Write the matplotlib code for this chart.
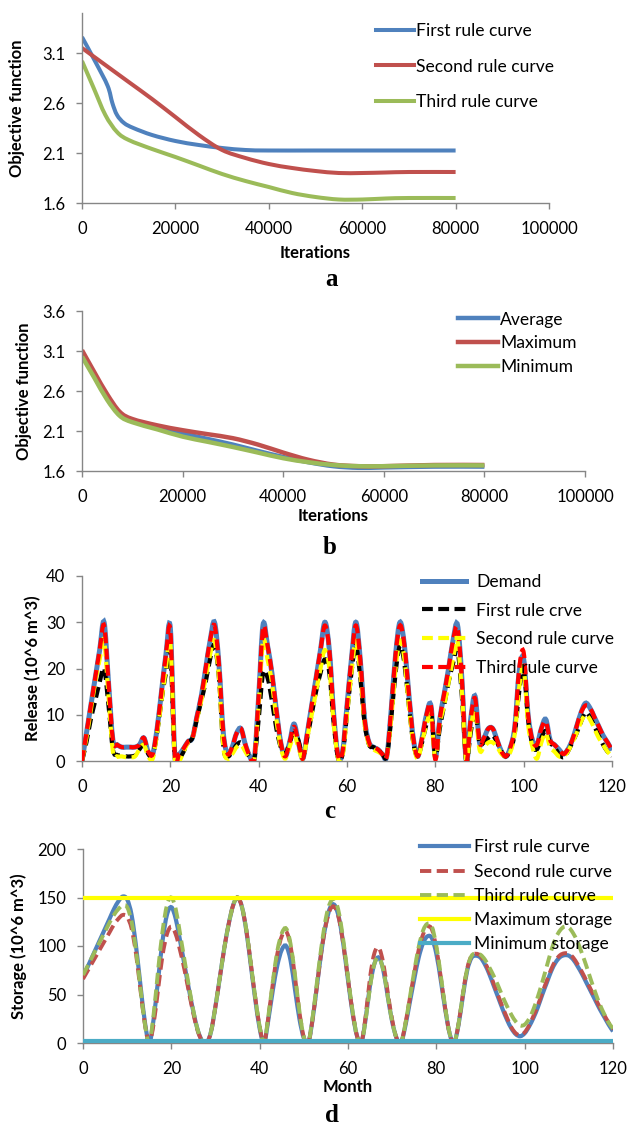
import matplotlib
matplotlib.use("Agg")
import matplotlib.pyplot as plt
from matplotlib.path import Path
from matplotlib.patches import PathPatch
from matplotlib.lines import Line2D
from matplotlib import ticker
import numpy as np

plt.rcParams['font.family'] = ['Lato', 'DejaVu Sans']

# ---------------- data ----------------
# panel a: objective function vs iterations for each rule curve
iter_a_first = [0, 3000, 5500, 6500, 7500, 9000, 11000, 15000, 20000, 25000, 30000, 35000, 40000, 50000, 60000, 70000, 80000]
obj_a_first = [3.26, 3.00, 2.77, 2.60, 2.48, 2.40, 2.35, 2.28, 2.22, 2.18, 2.15, 2.13, 2.125, 2.125, 2.125, 2.125, 2.125]
iter_a_second = [0, 5000, 10000, 15000, 20000, 25000, 30000, 35000, 40000, 45000, 50000, 55000, 60000, 65000, 70000, 80000]
obj_a_second = [3.15, 2.98, 2.81, 2.64, 2.46, 2.28, 2.13, 2.05, 1.99, 1.95, 1.92, 1.90, 1.90, 1.905, 1.91, 1.91]
iter_a_third = [0, 2500, 5000, 7500, 10000, 15000, 20000, 25000, 30000, 35000, 40000, 45000, 50000, 55000, 60000, 65000, 70000, 80000]
obj_a_third = [3.02, 2.75, 2.48, 2.31, 2.23, 2.14, 2.06, 1.975, 1.89, 1.82, 1.76, 1.70, 1.66, 1.635, 1.635, 1.645, 1.65, 1.65]

# panel b: average / maximum / minimum objective function
iter_b = [0, 2500, 5000, 7500, 10000, 15000, 20000, 25000, 30000, 35000, 40000, 45000, 50000, 55000, 60000, 70000, 80000]
obj_avg = [3.05, 2.78, 2.51, 2.31, 2.23, 2.15, 2.07, 2.00, 1.93, 1.85, 1.775, 1.71, 1.66, 1.64, 1.645, 1.655, 1.655]
obj_max = [3.11, 2.83, 2.56, 2.34, 2.25, 2.17, 2.11, 2.06, 2.01, 1.93, 1.83, 1.74, 1.68, 1.66, 1.66, 1.675, 1.675]
obj_min = [3.03, 2.76, 2.49, 2.29, 2.21, 2.12, 2.03, 1.965, 1.90, 1.83, 1.76, 1.71, 1.675, 1.66, 1.66, 1.67, 1.67]

# panel c: monthly release (10^6 m^3)
months = list(range(121))
demand = [0, 6, 12, 18, 24, 30, 17, 4.5, 3.5, 3,
          3, 3, 3, 3.5, 5, 2, 1.5, 7, 15, 23,
          28.8, 1.5, 1.5, 2.7, 4.2, 5, 9.5, 14, 20, 26,
          30, 21, 6, 1.5, 3, 6, 7, 3.5, 1, 0.3,
          14, 29.5, 25, 19, 11, 4, 1, 4, 8, 4,
          0.5, 6, 12, 18, 24, 30, 24, 10, 1, 2,
          12, 22, 30, 22, 9, 4, 3, 2.5, 1.5, 1,
          11, 23, 30, 25, 14.5, 5, 1, 5, 10, 12,
          1, 9, 14.5, 20, 26, 29.5, 18, 0, 9, 14,
          4, 5, 7, 7, 4.5, 2, 1, 3, 7.5, 19.5,
          22, 10, 4.5, 3.5, 7, 9, 4.5, 3.5, 2.5, 1.5,
          2.5, 4.5, 7.5, 10.5, 12.5, 11.5, 9.5, 7.5, 5.5, 4,
          2.3]
release_first = [0, 4, 9, 13, 17, 20, 12, 2.5, 1.3, 1.2,
                 1, 1, 1.2, 2.5, 3.5, 1.5, 1, 6, 13, 19,
                 23.5, 1, 0.5, 2, 4, 5, 9, 13, 17, 22,
                 25, 18, 3, 1, 2, 3.5, 4, 2.5, 0.8, 0.5,
                 9, 19, 18, 13, 7, 3, 1.5, 4, 6, 4.5,
                 1, 5, 10, 15, 19, 22, 19, 8, 0.5, 1.5,
                 10, 19, 25, 18, 8, 3.5, 3, 2.5, 1.5, 1,
                 9, 19, 25, 21, 12, 4, 1, 4, 8, 11,
                 1, 7, 12, 17, 21, 24, 14, 0, 6, 11,
                 4, 4, 5, 5.5, 4, 2, 1, 2.5, 6, 15,
                 20, 9, 3.5, 2.5, 5, 6.5, 4, 3, 1.5, 0.8,
                 2, 4, 6, 8.5, 10.5, 9.5, 7.5, 5.5, 3.5, 2,
                 1]
release_second = [0, 5, 11, 17, 22, 26, 14, 2, 1, 1,
                  0.8, 0.8, 1, 2.5, 3.5, 1, 0.5, 6, 13, 20,
                  25.5, 0.5, 0, 2, 4, 5, 9, 13, 18, 23,
                  26, 18, 3, 0.5, 1.5, 3, 3.5, 2, 0.5, 0.3,
                  12, 26, 22, 17, 9, 3, 0.5, 3, 5.5, 3,
                  0.5, 5, 10, 15, 20, 24, 20, 8, 0.5, 1,
                  10, 19, 26, 19, 8, 3.5, 2.5, 2, 1.5, 1,
                  9, 20, 26, 22, 12, 4, 0.5, 4, 8, 10,
                  0.5, 8, 12, 17, 22, 26, 15, 0, 7, 11,
                  2.5, 3, 4, 4, 3, 1.5, 1, 2, 6, 16,
                  20, 8, 3, 0.5, 4, 6, 3, 2, 1, 1,
                  2, 4, 6, 8.5, 10, 9, 7, 5, 3.5, 2,
                  1]
release_third = [0, 6, 12, 18, 24, 29.3, 17, 4.5, 3.5, 3,
                 3, 3, 3, 3.5, 5, 2, 1.5, 7, 15, 23,
                 28.2, 1.5, 1.5, 2.7, 4.2, 5, 9.5, 14, 20, 26,
                 29.3, 21, 6, 1.5, 3, 6, 7, 3.5, 1, 0.3,
                 14, 28.8, 25, 19, 11, 4, 1, 4, 7.4, 4,
                 0.5, 6, 12, 18, 24, 29.3, 24, 10, 1, 2,
                 12, 22, 29.3, 22, 9, 4, 3, 2.5, 1.5, 1,
                 11, 23, 29.3, 25, 14.5, 5, 1, 5, 10, 12,
                 0.3, 9, 14.5, 20, 26, 28.8, 18, 0, 9, 13.5,
                 4, 5, 7, 7, 4.5, 2, 1, 3, 7.5, 20,
                 23.5, 10, 4.5, 3.5, 7, 8.5, 4.5, 3.5, 2.5, 1.5,
                 2.5, 4.5, 7.5, 10.5, 12, 11.5, 9.5, 7.5, 5.5, 4,
                 2.3]

# panel d: monthly storage (10^6 m^3)
storage_first = [68, 78, 88, 98, 108, 118, 128, 138, 146, 151,
                 148, 132, 100, 60, 22, 0, 25, 65, 105, 132,
                 140, 128, 105, 80, 55, 32, 13, 2, 0, 12,
                 38, 68, 98, 123, 142, 150, 140, 115, 80, 45,
                 15, 0, 25, 55, 80, 96, 100, 85, 55, 25,
                 5, 0, 25, 60, 95, 123, 140, 142, 128, 100,
                 65, 32, 8, 0, 25, 60, 82, 88, 75, 48,
                 22, 5, 0, 18, 42, 66, 88, 103, 110, 108,
                 92, 65, 35, 10, 0, 18, 48, 75, 88, 90,
                 88, 81, 71, 59, 47, 35, 24, 15, 9, 7,
                 10, 17, 26, 37, 50, 62, 74, 83, 88.5, 90.5,
                 90, 86, 79, 71, 62, 53, 44, 35, 27, 19,
                 12]
storage_second = [66, 74, 82, 90, 98, 106, 114, 122, 128, 132,
                  130, 118, 92, 55, 20, 0, 20, 55, 90, 112,
                  120, 112, 95, 75, 52, 30, 12, 2, 0, 12,
                  38, 68, 98, 123, 142, 150, 140, 116, 82, 47,
                  17, 0, 28, 62, 92, 110, 115, 100, 68, 32,
                  6, 0, 25, 60, 95, 122, 138, 140, 127, 100,
                  66, 33, 8, 0, 28, 68, 93, 98, 82, 52,
                  24, 5, 0, 20, 46, 72, 96, 112, 120, 117,
                  98, 68, 36, 10, 0, 19, 50, 77, 90, 92,
                  90, 83, 73, 61, 49, 37, 26, 16, 10, 8,
                  11, 18, 28, 39, 52, 64, 76, 85, 90.5, 92.5,
                  92, 88, 81, 73, 64, 55, 46, 37, 29, 21,
                  14]
storage_third = [70, 79, 88, 97, 106, 115, 124, 132, 138, 142,
                 140, 125, 95, 57, 20, 0, 30, 75, 115, 142,
                 150, 138, 112, 85, 58, 33, 13, 2, 0, 12,
                 38, 68, 98, 123, 142, 150, 140, 116, 82, 47,
                 17, 0, 29, 64, 95, 113, 118, 102, 70, 33,
                 6, 0, 27, 64, 100, 129, 145, 148, 133, 104,
                 68, 34, 8, 0, 24, 58, 82, 88, 75, 48,
                 22, 5, 0, 20, 47, 74, 99, 116, 123, 120,
                 100, 70, 37, 10, 0, 19, 50, 77, 90, 92,
                 91, 86, 78, 69, 59, 48, 38, 29, 22, 18,
                 19, 25, 35, 48, 63, 79, 95, 108, 116, 120,
                 119, 113, 104, 92, 79, 65, 52, 40, 30, 21,
                 15]
max_storage = 150
min_storage = 2

# ---------------- helpers ----------------
W, H = 627, 1128
def fx(px):
    return px / W
def fy(py):
    return 1 - py / H

def smooth_path(x, y):
    # Excel style "smoothed line": Catmull-Rom bezier through the data points
    pts = np.column_stack([x, y]).astype(float)
    n = len(pts)
    verts = [pts[0]]
    codes = [Path.MOVETO]
    for i in range(n - 1):
        p0 = pts[max(i - 1, 0)]
        p1 = pts[i]
        p2 = pts[i + 1]
        p3 = pts[min(i + 2, n - 1)]
        verts += [p1 + (p2 - p0) / 6, p2 - (p3 - p1) / 6, p2]
        codes += [Path.CURVE4] * 3
    return Path(verts, codes)

def curve(ax, x, y, color, lw, ls='-', z=2):
    ax.add_patch(PathPatch(smooth_path(x, y), fill=False, edgecolor=color,
                           linewidth=lw, linestyle=ls, zorder=z, capstyle='butt'))
    return Line2D([], [], color=color, lw=lw, ls=ls)

def style(ax):
    for s in ['top', 'right']:
        ax.spines[s].set_visible(False)
    for s in ['left', 'bottom']:
        ax.spines[s].set_color('#868686')
        ax.spines[s].set_linewidth(1.0)
    ax.tick_params(axis='both', direction='out', length=4, width=1.0,
                   color='#868686', labelsize=12, labelcolor='black')
    ax.tick_params(axis='y', pad=8)
    ax.tick_params(axis='x', pad=9)
    ax.set_facecolor('none')

LEG_FS = 12.6

def legend(ax, handles, labels, top_px, left_px, hl, htp, ls):
    ax.legend(handles, labels, loc='upper left', bbox_to_anchor=(fx(left_px), fy(top_px)),
              bbox_transform=fig.transFigure, frameon=False, borderpad=0, borderaxespad=0,
              handlelength=hl, handletextpad=htp, labelspacing=ls, fontsize=LEG_FS)

def axis_labels(ax, xlabel, xl_y, ylabel, yl_x):
    if xlabel:
        ax.set_xlabel(xlabel, fontsize=12, fontweight='bold')
        ax.xaxis.set_label_coords(0.5, xl_y, transform=ax.transAxes)
        ax.xaxis.label.set_va('center')
    ax.set_ylabel(ylabel, fontsize=12, fontweight='bold')
    ax.yaxis.set_label_coords(yl_x, 0.5, transform=ax.transAxes)
    ax.yaxis.label.set_va('center')

def panel_letter(px, py, s):
    fig.text(fx(px), fy(py), s, fontsize=18, fontweight='bold', family='Liberation Serif',
             ha='center', va='center')

fig = plt.figure(figsize=(W / 100, H / 100), dpi=100)

blue, red, green = '#4F81BD', '#C0504D', '#9BBB59'

# ---------------- panel a ----------------
ax1 = fig.add_axes([fx(82), fy(203), (549 - 82) / W, (203 - 13) / H])
h1 = curve(ax1, iter_a_first, obj_a_first, blue, 2.9)
h2 = curve(ax1, iter_a_second, obj_a_second, red, 2.9)
h3 = curve(ax1, iter_a_third, obj_a_third, green, 2.9)
ax1.set_xlim(0, 100000)
ax1.set_ylim(1.6, 3.5)
ax1.set_xticks(range(0, 100001, 20000))
ax1.set_yticks([1.6, 2.1, 2.6, 3.1])
ax1.xaxis.set_major_formatter(ticker.StrMethodFormatter('{x:.0f}'))
style(ax1)
legend(ax1, [h1, h2, h3], ['First rule curve', 'Second rule curve', 'Third rule curve'],
       22.8, 376, 2.17, 0.11, 1.13)
axis_labels(ax1, 'Iterations', (203 - 253) / 190, 'Objective function', (17.5 - 82) / 467)
panel_letter(331, 280, 'a')

# ---------------- panel b ----------------
ax2 = fig.add_axes([fx(82), fy(471), (585 - 82) / W, (471 - 311) / H])
g1 = curve(ax2, iter_b, obj_avg, blue, 3.2)
g2 = curve(ax2, iter_b, obj_max, red, 3.2)
g3 = curve(ax2, iter_b, obj_min, green, 3.2)
ax2.set_xlim(0, 100000)
ax2.set_ylim(1.6, 3.6)
ax2.set_xticks(range(0, 100001, 20000))
ax2.set_yticks([1.6, 2.1, 2.6, 3.1, 3.6])
ax2.xaxis.set_major_formatter(ticker.StrMethodFormatter('{x:.0f}'))
style(ax2)
legend(ax2, [g1, g2, g3], ['Average', 'Maximum', 'Minimum'], 311.5, 458, 2.29, 0.11, 0.44)
axis_labels(ax2, 'Iterations', (471 - 516) / 160, 'Objective function', (24 - 82) / 503)
panel_letter(330, 548, 'b')

# ---------------- panel c ----------------
ax3 = fig.add_axes([fx(82), fy(761), (612 - 82) / W, (761 - 576) / H])
dash_c = (0, (2.6, 1.3))
k1 = curve(ax3, months, demand, blue, 3.6, z=2)
k2 = curve(ax3, months, release_first, 'black', 3.0, dash_c, z=3)
k3 = curve(ax3, months, release_second, '#FFFF00', 3.0, dash_c, z=4)
k4 = curve(ax3, months, release_third, '#FF0000', 3.0, dash_c, z=5)
ax3.set_xlim(0, 120)
ax3.set_ylim(0, 40)
ax3.set_xticks(range(0, 121, 20))
ax3.set_yticks(range(0, 41, 10))
style(ax3)
legend(ax3, [k1, k2, k3, k4], ['Demand', 'First rule crve', 'Second rule curve', 'Third rule curve'],
       573.8, 422, 2.51, 0.57, 0.73)
axis_labels(ax3, None, None, 'Release (10^6 m^3)', (33 - 82) / 530)
panel_letter(330, 811, 'c')

# ---------------- panel d ----------------
ax4 = fig.add_axes([fx(83), fy(1043), (613 - 83) / W, (1043 - 849) / H])
dash_d = (0, (2.9, 1.4))
s1 = curve(ax4, months, storage_first, blue, 3.0, z=2)
s2 = curve(ax4, months, storage_second, red, 2.8, dash_d, z=3)
s3 = curve(ax4, months, storage_third, green, 2.8, dash_d, z=4)
s4, = ax4.plot([months[0], months[-1]], [max_storage, max_storage], color='#FFFF00', lw=3.0, zorder=5)
s5, = ax4.plot([months[0], months[-1]], [min_storage, min_storage], color='#4BACC6', lw=3.0, zorder=6)
ax4.set_xlim(0, 120)
ax4.set_ylim(0, 200)
ax4.set_xticks(range(0, 121, 20))
ax4.set_yticks(range(0, 201, 50))
style(ax4)
legend(ax4, [s1, s2, s3, s4, s5],
       ['First rule curve', 'Second rule curve', 'Third rule curve', 'Maximum storage', 'Minimum storage'],
       839.5, 420, 2.8, 0.29, 0.47)
axis_labels(ax4, 'Month', (1043 - 1087) / 194, 'Storage (10^6 m^3)', (18.5 - 83) / 530)
panel_letter(332, 1115, 'd')

plt.savefig('out.png', dpi=100)
